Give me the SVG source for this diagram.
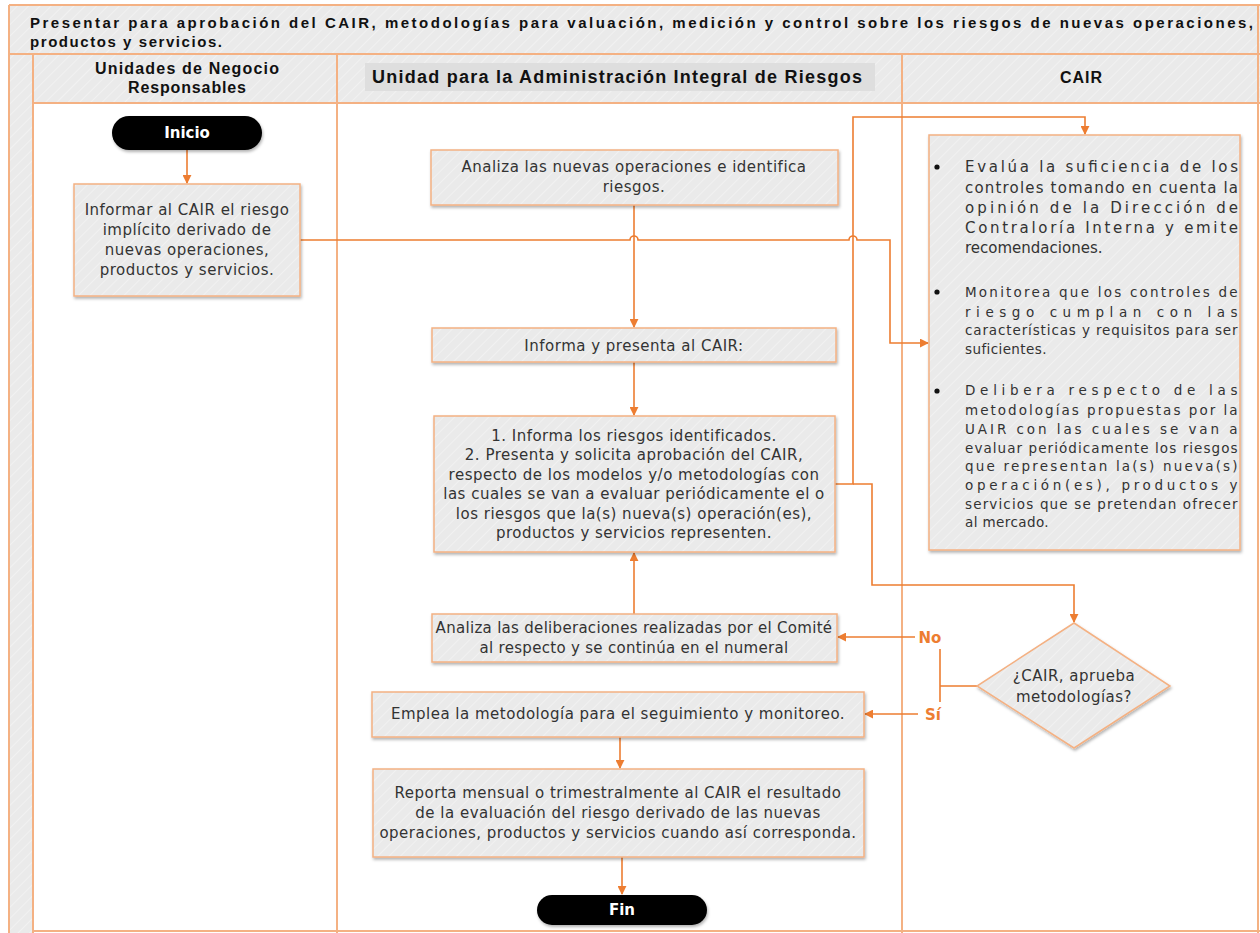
<svg xmlns="http://www.w3.org/2000/svg" width="1260" height="933" viewBox="0 0 1260 933">
<defs>
<pattern id="hatch" width="8" height="8" patternUnits="userSpaceOnUse" patternTransform="rotate(45)">
<rect width="8" height="8" fill="#EAEAEA"/>
<line x1="0" y1="0" x2="0" y2="8" stroke="#F1F1F1" stroke-width="2"/>
</pattern>
<filter id="sh" x="-10%" y="-10%" width="120%" height="130%">
<feDropShadow dx="1" dy="2" stdDeviation="1.5" flood-color="#000" flood-opacity="0.3"/>
</filter>
<marker id="ah" viewBox="0 0 10 10" refX="9" refY="5" markerWidth="9" markerHeight="9" markerUnits="userSpaceOnUse" orient="auto">
<path d="M0,0 L10,5 L0,10 z" fill="#ED7D31"/>
</marker>
<style>
.lane{fill:none;stroke:#F4B183;stroke-width:2}
.box{fill:url(#hatch);stroke:#F4B183;stroke-width:1.5;filter:url(#sh)}
.term{fill:#000;filter:url(#sh)}
.t{font-family:"DejaVu Sans","Noto Sans",sans-serif;font-size:15px;letter-spacing:0.5px;fill:#333;text-anchor:middle}
.ts{font-family:"DejaVu Sans","Noto Sans",sans-serif;font-size:15px;fill:#333}
.tb{font-family:"DejaVu Sans","Noto Sans",sans-serif;font-size:13.5px;letter-spacing:0.4px;fill:#333}
.hd{font-family:"Liberation Sans","Noto Sans",sans-serif;font-weight:bold;fill:#111;text-anchor:middle}
.ttl{font-family:"Liberation Sans","Noto Sans",sans-serif;font-weight:bold;font-size:15px;fill:#111;text-anchor:start}
.tw{font-family:"DejaVu Sans","Noto Sans",sans-serif;font-weight:bold;font-size:15px;fill:#fff;text-anchor:middle}
.c{fill:none;stroke:#ED7D31;stroke-width:1.6}
.lbl{font-family:"DejaVu Sans","Noto Sans",sans-serif;font-weight:bold;font-size:15px;fill:#ED7D31;text-anchor:middle}
</style>
</defs>
<rect width="1260" height="933" fill="#fff"/>
<g id="frame">
<rect x="9" y="5" width="1260" height="49" fill="url(#hatch)"/>
<rect x="9" y="54" width="1260" height="49" fill="url(#hatch)"/>
<rect x="9" y="103" width="24" height="830" fill="url(#hatch)"/>
<rect x="365" y="63" width="510" height="28" fill="#DEDEDE"/>
<line class="lane" x1="9" y1="5" x2="1260" y2="5"/>
<line class="lane" x1="9" y1="54" x2="1260" y2="54"/>
<line class="lane" x1="33" y1="103" x2="1260" y2="103"/>
<line class="lane" x1="9" y1="5" x2="9" y2="933"/>
<line class="lane" x1="33" y1="54" x2="33" y2="933"/>
<line class="lane" x1="337" y1="54" x2="337" y2="933"/>
<line class="lane" x1="902" y1="54" x2="902" y2="933"/>
<line class="lane" x1="1258" y1="5" x2="1258" y2="933"/>
<line class="lane" x1="33" y1="931" x2="1260" y2="931"/>
<text class="ttl" x="30" y="28" textLength="1223" lengthAdjust="spacing">Presentar para aprobación del CAIR, metodologías para valuación, medición y control sobre los riesgos de nuevas operaciones,</text>
<text class="ttl" x="30" y="47" textLength="192" lengthAdjust="spacing">productos y servicios.</text>
<text class="hd" font-size="16" x="187" y="74" textLength="184" lengthAdjust="spacing">Unidades de Negocio</text>
<text class="hd" font-size="16" x="187" y="93" textLength="118" lengthAdjust="spacing">Responsables</text>
<text class="hd" font-size="18" x="617" y="83" textLength="490" lengthAdjust="spacing">Unidad para la Administración Integral de Riesgos</text>
<text class="hd" font-size="16" x="1081" y="83" textLength="42" lengthAdjust="spacing">CAIR</text>
</g>
<g id="connectors">
<line class="c" x1="187" y1="150" x2="187" y2="183" marker-end="url(#ah)"/>
<path class="c" d="M300,240 H630 A4,4 0 0 1 638,240 H849 A4,4 0 0 1 857,240 H890 V343 H928" marker-end="url(#ah)"/>
<line class="c" x1="634" y1="205" x2="634" y2="327" marker-end="url(#ah)"/>
<line class="c" x1="634" y1="362" x2="634" y2="415" marker-end="url(#ah)"/>
<path class="c" d="M835,484 H853 V117 H1085 V134" marker-end="url(#ah)"/>
<path class="c" d="M853,484 H872 V585 H1074 V622" marker-end="url(#ah)"/>
<line class="c" x1="634" y1="614" x2="634" y2="553" marker-end="url(#ah)"/>
<path class="c" d="M977,686 H940 M940,649 V702"/>
<line class="c" x1="915" y1="637" x2="838" y2="637" marker-end="url(#ah)"/>
<line class="c" x1="918" y1="714" x2="865" y2="714" marker-end="url(#ah)"/>
<text class="lbl" x="930" y="643">No</text>
<text class="lbl" x="933" y="720">Sí</text>
<line class="c" x1="620" y1="737" x2="620" y2="768" marker-end="url(#ah)"/>
<line class="c" x1="622" y1="857" x2="622" y2="894" marker-end="url(#ah)"/>
</g>
<g id="inicio">
<rect class="term" x="112" y="116" width="150" height="34" rx="17"/>
<text class="tw" x="187" y="138">Inicio</text>
</g>
<g id="informar">
<rect class="box" x="74" y="184" width="226" height="112"/>
<text class="t" x="187" y="215">Informar al CAIR el riesgo</text>
<text class="t" x="187" y="235">implícito derivado de</text>
<text class="t" x="187" y="255">nuevas operaciones,</text>
<text class="t" x="187" y="275">productos y servicios.</text>
</g>
<g id="analiza">
<rect class="box" x="431" y="150" width="407" height="55"/>
<text class="t" x="634" y="172">Analiza las nuevas operaciones e identifica</text>
<text class="t" x="634" y="192">riesgos.</text>
</g>
<g id="informa">
<rect class="box" x="432" y="328" width="404" height="34"/>
<text class="t" x="634" y="351">Informa y presenta al CAIR:</text>
</g>
<g id="presenta">
<rect class="box" x="434" y="416" width="401" height="136"/>
<text class="t" x="634" y="441">1. Informa los riesgos identificados.</text>
<text class="t" x="634" y="460">2. Presenta y solicita aprobación del CAIR,</text>
<text class="t" x="634" y="480">respecto de los modelos y/o metodologías con</text>
<text class="t" x="634" y="499">las cuales se van a evaluar periódicamente el o</text>
<text class="t" x="634" y="519">los riesgos que la(s) nueva(s) operación(es),</text>
<text class="t" x="634" y="538">productos y servicios representen.</text>
</g>
<g id="deliberaciones">
<rect class="box" x="432" y="614" width="405" height="48"/>
<text class="t" font-size="13" style="letter-spacing:0.3px" x="634" y="633">Analiza las deliberaciones realizadas por el Comité</text>
<text class="t" font-size="13" style="letter-spacing:0.3px" x="634" y="653">al respecto y se continúa en el numeral</text>
</g>
<g id="emplea">
<rect class="box" x="372" y="692" width="492" height="45"/>
<text class="t" x="618" y="719">Emplea la metodología para el seguimiento y monitoreo.</text>
</g>
<g id="reporta">
<rect class="box" x="373" y="769" width="491" height="88"/>
<text class="t" x="618" y="798">Reporta mensual o trimestralmente al CAIR el resultado</text>
<text class="t" x="618" y="818">de la evaluación del riesgo derivado de las nuevas</text>
<text class="t" x="618" y="838">operaciones, productos y servicios cuando así corresponda.</text>
</g>
<g id="fin">
<rect class="term" x="537" y="895" width="170" height="30" rx="15"/>
<text class="tw" x="622" y="915">Fin</text>
</g>
<g id="cair">
<rect class="box" x="929" y="135" width="311" height="415"/>
<circle cx="937" cy="167" r="2.6" fill="#111"/>
<circle cx="937" cy="292" r="2.6" fill="#111"/>
<circle cx="937" cy="391" r="2.6" fill="#111"/>
<text class="ts" x="965" y="172" textLength="273" lengthAdjust="spacing">Evalúa la suficiencia de los</text>
<text class="ts" x="965" y="193" textLength="273" lengthAdjust="spacing">controles tomando en cuenta la</text>
<text class="ts" x="965" y="213" textLength="273" lengthAdjust="spacing">opinión de la Dirección de</text>
<text class="ts" x="965" y="233" textLength="273" lengthAdjust="spacing">Contraloría Interna y emite</text>
<text class="ts" x="965" y="253">recomendaciones.</text>
<text class="tb" x="965" y="297" textLength="273" lengthAdjust="spacing">Monitorea que los controles de</text>
<text class="tb" x="965" y="317" textLength="273" lengthAdjust="spacing">riesgo cumplan con las</text>
<text class="tb" x="965" y="335" textLength="273" lengthAdjust="spacing">características y requisitos para ser</text>
<text class="tb" x="965" y="354">suficientes.</text>
<text class="tb" x="965" y="395" textLength="273" lengthAdjust="spacing">Delibera respecto de las</text>
<text class="tb" x="965" y="415" textLength="273" lengthAdjust="spacing">metodologías propuestas por la</text>
<text class="tb" x="965" y="434" textLength="273" lengthAdjust="spacing">UAIR  con las cuales se van a</text>
<text class="tb" x="965" y="453" textLength="273" lengthAdjust="spacing">evaluar periódicamente los riesgos</text>
<text class="tb" x="965" y="471" textLength="273" lengthAdjust="spacing">que representan la(s) nueva(s)</text>
<text class="tb" x="965" y="490" textLength="273" lengthAdjust="spacing">operación(es), productos y</text>
<text class="tb" x="965" y="509" textLength="273" lengthAdjust="spacing">servicios que se pretendan ofrecer</text>
<text class="tb" x="965" y="527">al mercado.</text>
</g>
<g id="decision">
<polygon class="box" points="1074,623 1170,686 1074,748 977,686"/>
<text class="t" x="1074" y="681">¿CAIR, aprueba</text>
<text class="t" x="1074" y="702">metodologías?</text>
</g>
</svg>
